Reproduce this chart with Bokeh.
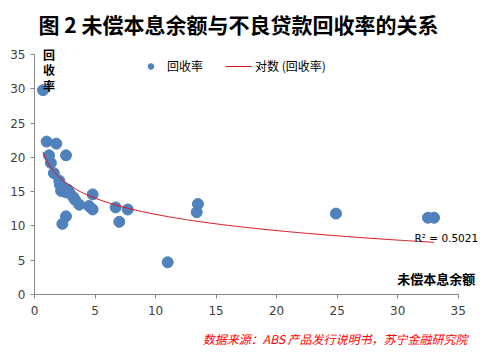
import numpy as np
from bokeh.plotting import figure
from bokeh.models import Label, Legend, LegendItem, Range1d, ColumnDataSource, Title
from bokeh.embed import file_html
from bokeh.resources import INLINE

# Data
balance = [0.7, 1.0, 1.8, 1.2, 2.6, 1.35, 1.6, 2.05, 2.1, 2.4, 2.2, 2.6, 2.9, 2.75,
           3.2, 3.35, 3.7, 4.5, 4.8, 4.8, 2.6, 2.3, 6.7, 7.0, 7.7, 13.5, 13.4,
           11.0, 24.9, 32.5, 33.0]
recovery = [29.8, 22.3, 22.0, 20.3, 20.3, 19.2, 17.7, 16.6, 16.0, 15.6, 15.1, 14.9, 14.8, 15.3,
            14.2, 13.8, 13.1, 12.9, 14.6, 12.4, 11.4, 10.3, 12.7, 10.6, 12.4, 13.2, 12.0,
            4.7, 11.8, 11.2, 11.2]
x_ticks = [0, 5, 10, 15, 20, 25, 30, 35]
y_ticks = [0, 5, 10, 15, 20, 25, 30, 35]

title_text = "图 2  未偿本息余额与不良贷款回收率的关系"
series_name = "回收率"
trend_name = "对数 (回收率)"
x_title = "未偿本息余额"
y_title = "回\n收\n率"
r2_text = "R² = 0.5021"
source_text = "数据来源：ABS 产品发行说明书，苏宁金融研究院"

# logarithmic trend line fitted to the data
bx = np.array(balance)
ry = np.array(recovery)
b, a = np.polyfit(np.log(bx), ry, 1)
tx = np.linspace(bx.min(), bx.max(), 200)
ty = a + b * np.log(tx)

CJK = "Noto Sans CJK SC"

p = figure(width=500, height=361, output_backend="svg", toolbar_location=None,
           x_range=Range1d(0, 37.5), y_range=Range1d(0, 36.46),
           min_border_left=34, min_border_right=12, min_border_top=44, min_border_bottom=67)
p.outline_line_color = None
p.xgrid.visible = False
p.ygrid.visible = False

p.title.text = title_text
p.title.text_font = CJK
p.title.text_font_size = "21px"
p.title.text_font_style = "bold"
p.title.text_color = "#000000"
p.title.align = "left"
p.title.offset = 4
p.title.standoff = 12

src_title = Title(text=source_text, text_font=CJK, text_font_size="12px",
                  text_font_style="italic", text_color="#FF0000", align="right",
                  vertical_align="top", offset=21, standoff=24)
p.add_layout(src_title, "below")

for ax in (p.xaxis, p.yaxis):
    ax.axis_line_color = "#868686"
    ax.major_tick_line_color = "#868686"
    ax.minor_tick_line_color = None
    ax.major_tick_in = 0
    ax.major_tick_out = 4
    ax.major_label_text_font = "DejaVu Sans"
    ax.major_label_text_font_size = "12px"
    ax.major_label_text_color = "#404040"
p.xaxis.ticker = x_ticks
p.yaxis.ticker = y_ticks
p.xaxis.bounds = (0, 35)
p.yaxis.bounds = (0, 35)
p.xaxis.major_label_standoff = 7
p.yaxis.major_label_standoff = 5

src = ColumnDataSource(dict(x=balance, y=recovery))
sc = p.scatter("x", "y", source=src, size=11, fill_color="#4F81BD", line_color="#4F81BD")
ln = p.line(tx, ty, line_color="#E0101A", line_width=1)

legend = Legend(items=[LegendItem(label=series_name, renderers=[sc]),
                       LegendItem(label=trend_name, renderers=[ln])],
                orientation="horizontal", location=(103, 220),
                padding=0, margin=0, spacing=22, label_standoff=3,
                glyph_width=27, glyph_height=14,
                border_line_color=None, background_fill_alpha=0,
                label_text_font=CJK, label_text_font_size="12px",
                label_text_color="#000000")
p.add_layout(legend, "center")

p.add_layout(Label(x=0.7, y=36.25, text=y_title, text_font=CJK,
                   text_font_size="12px", text_font_style="bold", text_line_height=0.9,
                   text_align="left", text_baseline="top", text_color="#000000"))
p.add_layout(Label(x=36.4, y=2.35, text=x_title, text_font=CJK,
                   text_font_size="13px", text_font_style="bold",
                   text_align="right", text_baseline="middle", text_color="#000000"))
p.add_layout(Label(x=31.38, y=8.17, text=r2_text, text_font="DejaVu Sans",
                   text_font_size="10.5px", text_align="left", text_baseline="middle",
                   text_color="#000000"))

open("out.html", "w").write(file_html(p, INLINE))
